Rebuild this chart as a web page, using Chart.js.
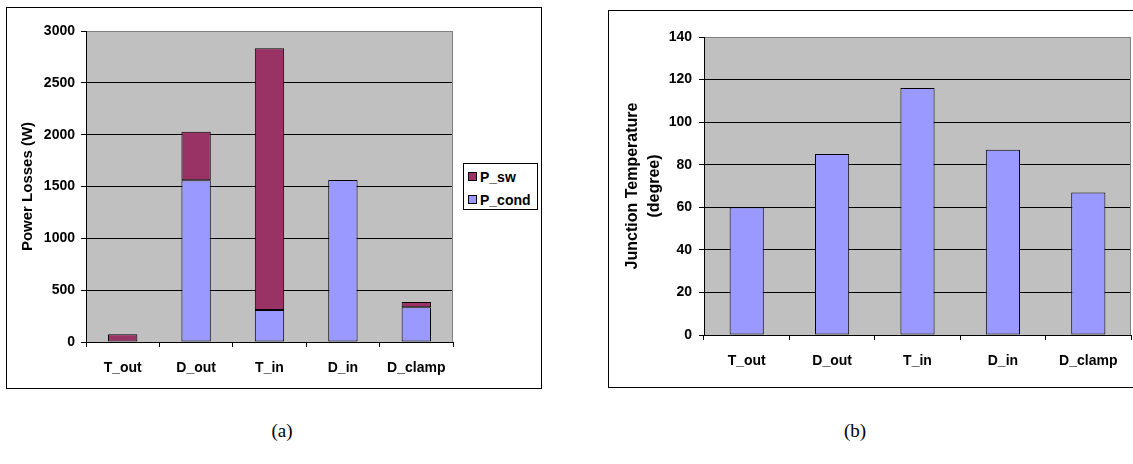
<!DOCTYPE html>
<html>
<head>
<meta charset="utf-8">
<title>Power losses and junction temperature</title>
<script src="https://cdn.jsdelivr.net/npm/chart.js@4"></script>
<style>
    body {
        margin: 0;
        background: #fff;
        width: 1133px;
        height: 464px;
        overflow: hidden;
        position: relative;
        font-family: "Liberation Sans", Arial, sans-serif;
    }
    .panel {
        position: absolute;
        border: 1px solid #000;
        background: #fff;
    }
    .panel canvas { display: block; }
    #lossPanel { left: 6px; top: 7px; width: 534px; height: 380px; }
    #tempPanel { left: 608px; top: 10px; width: 543px; height: 376px; }
    #lossLegend {
        position: absolute;
        left: 463px; top: 163px;
        width: 73px; height: 45px;
        border: 1px solid #000;
        background: #fff;
        box-sizing: content-box;
    }
    #lossLegend .item {
        position: absolute;
        left: 4px;
        height: 16px;
        line-height: 16px;
        font-size: 14px;
        font-weight: bold;
        white-space: nowrap;
    }
    #lossLegend .swatch {
        display: inline-block;
        width: 7px; height: 7px;
        border: 1px solid #000;
        margin-right: 3px;
        vertical-align: 1px;
    }
    .caption {
        position: absolute;
        top: 420px;
        font-family: "Liberation Serif", "Times New Roman", serif;
        font-size: 19px;
        transform: translateX(-50%);
    }
</style>
</head>
<body>

<div class="panel" id="lossPanel"><canvas id="lossChart" width="534" height="380"></canvas></div>
<div id="lossLegend"></div>
<div class="panel" id="tempPanel"><canvas id="tempChart" width="543" height="376"></canvas></div>
<div class="caption" style="left:282px">(a)</div>
<div class="caption" style="left:855px">(b)</div>

<script>
// device names along the x axis
const devices = ['T_out', 'D_out', 'T_in', 'D_in', 'D_clamp'];

// power losses (W), stacked: conduction at the bottom, switching on top
const pCond = [0, 1560, 308, 1562, 335];
const pSw = [75, 468, 2525, 0, 50];

// junction temperature of each device
const junctionTemp = [60, 85, 116, 87, 67];

const lossTicks = { min: 0, max: 3000, step: 500 };
const tempTicks = { min: 0, max: 140, step: 20 };

Chart.defaults.font.family = '"Liberation Sans", Arial, sans-serif';
Chart.defaults.font.weight = 'bold';
Chart.defaults.color = '#000';

// gray plot area with a gray frame on the right
const plotBackground = {
    id: 'plotBackground',
    beforeDraw(chart) {
        const { ctx, chartArea: a } = chart;
        ctx.save();
        ctx.fillStyle = '#c0c0c0';
        ctx.fillRect(a.left, a.top, a.right - a.left, a.bottom - a.top);
        ctx.restore();
    },
    beforeDatasetsDraw(chart) {
        const { ctx, chartArea: a } = chart;
        ctx.save();
        ctx.strokeStyle = '#808080';
        ctx.lineWidth = 1;
        ctx.beginPath();
        ctx.moveTo(Math.round(a.right) - 0.5, a.top);
        ctx.lineTo(Math.round(a.right) - 0.5, a.bottom);
        ctx.stroke();
        ctx.restore();
    }
};

function valueAxis(range, width, tickPad, title) {
    return {
        min: range.min,
        max: range.max,
        ticks: {
            stepSize: range.step,
            padding: tickPad,
            font: { size: 14, weight: 'bold' },
            callback: v => String(v)
        },
        grid: {
            color: c => c.tick && c.tick.value === range.max ? '#808080' : '#000',
            tickColor: '#000',
            tickLength: 5,
            lineWidth: 1
        },
        border: { color: '#000', width: 1 },
        title: title,
        afterFit: s => { s.width = width; }
    };
}

function categoryAxis(height, pad) {
    return {
        offset: true,
        ticks: { padding: pad, font: { size: 14, weight: 'bold' }, maxRotation: 0 },
        grid: { offset: true, drawOnChartArea: false, tickLength: 5, color: '#000' },
        border: { color: '#000', width: 1 },
        afterFit: s => { s.height = height; }
    };
}

const barBorder = c => (c.raw > 0 ? 1 : 0);

const lossChart = new Chart(document.getElementById('lossChart'), {
    type: 'bar',
    data: {
        labels: devices,
        datasets: [{
            label: 'P_cond',
            data: pCond,
            backgroundColor: '#9999ff',
            borderColor: '#000',
            borderWidth: barBorder,
            borderSkipped: false
        }, {
            label: 'P_sw',
            data: pSw,
            backgroundColor: '#993366',
            borderColor: '#000',
            borderWidth: barBorder,
            borderSkipped: false
        }]
    },
    options: {
        responsive: false,
        animation: false,
        events: [],
        layout: { padding: { top: 23, right: 88, bottom: 0, left: 0 } },
        datasets: { bar: { barPercentage: 0.4, categoryPercentage: 1 } },
        plugins: { legend: { display: false }, tooltip: { enabled: false } },
        scales: {
            x: Object.assign(categoryAxis(46, 13), { stacked: true }),
            y: Object.assign(valueAxis(lossTicks, 79, 6, {
                display: true,
                text: 'Power Losses (W)',
                font: { size: 15, weight: 'bold' },
                padding: { top: 12, bottom: 0 }
            }), { stacked: true })
        }
    },
    plugins: [plotBackground]
});

// legend box, switching listed first like the stack order
const legendBox = document.getElementById('lossLegend');
lossChart.data.datasets.slice().reverse().forEach((ds, i) => {
    const item = document.createElement('div');
    item.className = 'item';
    item.style.top = (5 + i * 23) + 'px';
    const sw = document.createElement('span');
    sw.className = 'swatch';
    sw.style.background = ds.backgroundColor;
    item.appendChild(sw);
    item.appendChild(document.createTextNode(ds.label));
    legendBox.appendChild(item);
});

new Chart(document.getElementById('tempChart'), {
    type: 'bar',
    data: {
        labels: devices,
        datasets: [{
            label: 'Junction Temperature',
            data: junctionTemp,
            backgroundColor: '#9999ff',
            borderColor: '#000',
            borderWidth: barBorder,
            borderSkipped: false
        }]
    },
    options: {
        responsive: false,
        animation: false,
        events: [],
        layout: { padding: { top: 26, right: 21, bottom: 0, left: 0 } },
        datasets: { bar: { barPercentage: 0.4, categoryPercentage: 1 } },
        plugins: { legend: { display: false }, tooltip: { enabled: false } },
        scales: {
            x: categoryAxis(52, 13),
            y: valueAxis(tempTicks, 95, 7, {
                display: true,
                text: ['Junction Temperature', '(degree)'],
                font: { size: 16, weight: 'bold', lineHeight: 1.375 },
                padding: { top: 13, bottom: 0 }
            })
        }
    },
    plugins: [plotBackground]
});
</script>
</body>
</html>
